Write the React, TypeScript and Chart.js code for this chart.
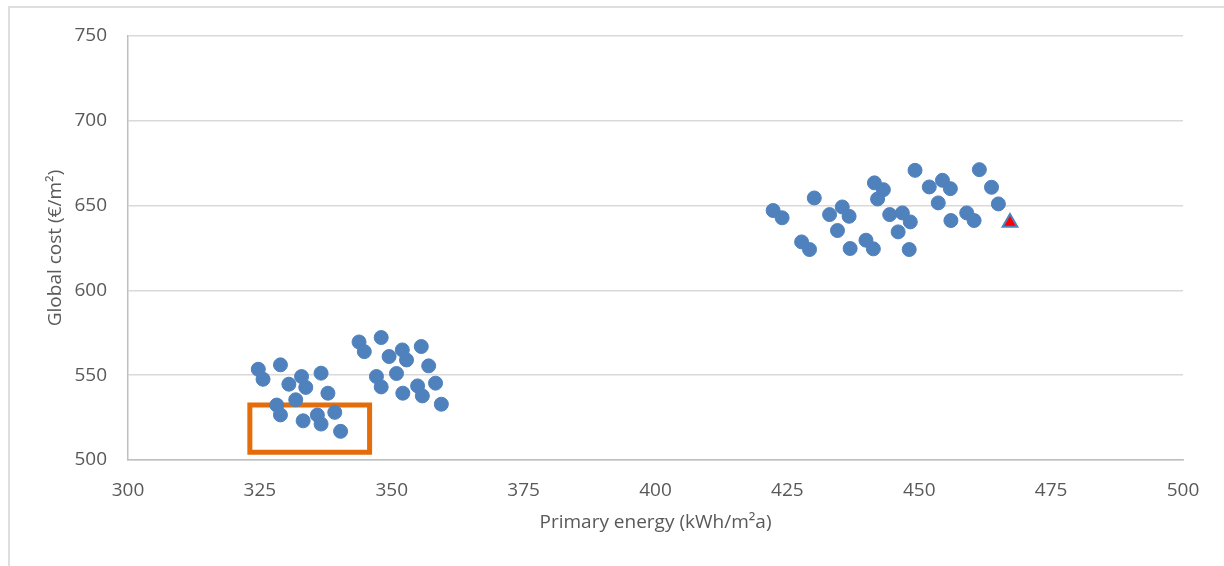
import { useEffect, useRef } from "react";
import { Chart, registerables } from "chart.js";

Chart.register(...registerables);

// Design variants: primary energy (kWh/m²a) and global cost (€/m²)
const energyLow = [
  324.7, 325.6, 328.9, 330.5, 332.9, 333.7, 336.6, 337.9, 328.2, 328.9, 331.8,
  333.2, 335.9, 336.6, 339.2, 340.3, 343.8, 344.8, 348.0, 349.5, 352.0, 352.8,
  355.6, 357.0, 347.1, 348.0, 350.9, 352.1, 354.9, 355.8, 358.3, 359.4,
];
const costLow = [
  553.5, 547.6, 556.1, 544.7, 549.2, 542.8, 551.2, 539.4, 532.4, 526.6, 535.5,
  523.1, 526.5, 521.2, 528.1, 516.9, 569.6, 563.9, 572.2, 561.0, 564.9, 559.0,
  566.9, 555.5, 549.2, 543.1, 551.0, 539.4, 543.7, 537.8, 545.3, 532.9,
];
const energyHigh = [
  422.3, 424.0, 430.1, 427.7, 429.2, 433.0, 435.4, 436.7, 434.5, 436.9, 439.9,
  441.3, 441.5, 443.2, 442.1, 444.4, 446.8, 448.3, 446.0, 448.1, 449.2, 451.9,
  454.4, 455.9, 453.6, 456.0, 459.0, 460.4, 461.4, 463.7, 465.0,
];
const costHigh = [
  647.1, 642.8, 654.5, 628.6, 624.1, 644.7, 649.2, 643.7, 635.3, 624.7, 629.6,
  624.5, 663.4, 659.4, 653.9, 644.7, 645.7, 640.4, 634.5, 624.1, 670.8, 661.0,
  664.9, 660.0, 651.6, 641.2, 645.7, 641.2, 671.2, 660.8, 651.0,
];

// Reference building
const refEnergy = [467.2];
const refCost = [640];

// Highlighted cost-optimal region (closed outline)
const boxEnergy = [323.1, 345.8, 345.8, 323.1, 323.1];
const boxCost = [532.4, 532.4, 504.5, 504.5, 532.4];

// Axis ranges
const xTicks = [300, 325, 350, 375, 400, 425, 450, 475, 500];
const yTicks = [500, 550, 600, 650, 700, 750];

const FONT = "'Open Sans', 'DejaVu Sans', sans-serif";
const TEXT = "#595959";
const SIZE = 19;

export default function App() {
  const ref = useRef<HTMLCanvasElement | null>(null);

  useEffect(() => {
    if (!ref.current) return;
    const variants = [
      ...energyLow.map((x, i) => ({ x, y: costLow[i] })),
      ...energyHigh.map((x, i) => ({ x, y: costHigh[i] })),
    ];
    const chart = new Chart(ref.current, {
      type: "scatter",
      data: {
        datasets: [
          {
            label: "Reference",
            data: refEnergy.map((x, i) => ({ x, y: refCost[i] })),
            pointStyle: "triangle",
            pointRadius: 8.5,
            backgroundColor: "#ff0000",
            borderColor: "#4f81bd",
            borderWidth: 2,
          },
          {
            label: "Variants",
            data: variants,
            pointRadius: 7,
            backgroundColor: "#4f81bd",
            borderColor: "#4f81bd",
            borderWidth: 1,
          },
          {
            label: "Optimal range",
            data: boxEnergy.map((x, i) => ({ x, y: boxCost[i] })),
            showLine: true,
            pointRadius: 0,
            borderColor: "#e46c0a",
            borderWidth: 5,
            borderJoinStyle: "miter",
            borderCapStyle: "square",
            backgroundColor: "transparent",
            fill: false,
          } as any,
        ],
      },
      options: {
        animation: false,
        responsive: false,
        maintainAspectRatio: false,
        events: [],
        layout: { padding: { top: 28, right: 41, bottom: 0, left: 0 } },
        plugins: {
          legend: { display: false },
          tooltip: { enabled: false },
        },
        scales: {
          x: {
            type: "linear",
            min: xTicks[0],
            max: xTicks[xTicks.length - 1],
            afterBuildTicks: (s: any) => {
              s.ticks = xTicks.map((v) => ({ value: v }));
            },
            afterFit: (s: any) => {
              s.height = 106;
              s.paddingLeft = 0;
              s.paddingRight = 0;
            },
            grid: { display: false, drawTicks: false },
            border: { display: true, color: "#bfbfbf", width: 1.5 },
            ticks: {
              padding: 19,
              color: TEXT,
              font: { family: FONT, size: SIZE },
            },
            title: {
              display: true,
              text: "Primary energy (kWh/m²a)",
              color: TEXT,
              font: { family: FONT, size: SIZE },
              padding: { top: 0, bottom: 32.5 },
            },
          },
          y: {
            type: "linear",
            min: yTicks[0],
            max: yTicks[yTicks.length - 1],
            afterBuildTicks: (s: any) => {
              s.ticks = yTicks.map((v) => ({ value: v }));
            },
            afterFit: (s: any) => {
              s.width = 118;
              s.paddingTop = 0;
              s.paddingBottom = 0;
            },
            grid: { color: "#d9d9d9", lineWidth: 1.5, drawTicks: false },
            border: { display: true, color: "#bfbfbf", width: 1.5 },
            ticks: {
              padding: 21,
              color: TEXT,
              font: { family: FONT, size: SIZE },
            },
            title: {
              display: true,
              text: "Global cost (€/m²)",
              color: TEXT,
              font: { family: FONT, size: SIZE },
              padding: { top: 34.5, bottom: 0 },
            },
          },
        },
      },
    });
    return () => chart.destroy();
  }, []);

  return (
    <div
      style={{
        position: "fixed",
        left: 0,
        top: 0,
        width: 1224,
        height: 566,
        overflow: "hidden",
        background: "#ffffff",
      }}
    >
      <div
        style={{
          position: "absolute",
          left: 8,
          top: 6,
          width: 1400,
          height: 800,
          borderLeft: "2px solid #dedede",
          borderTop: "2px solid #dedede",
        }}
      />
      <canvas
        ref={ref}
        width={1214}
        height={558}
        style={{ position: "absolute", left: 10, top: 8, width: 1214, height: 558 }}
      />
    </div>
  );
}
